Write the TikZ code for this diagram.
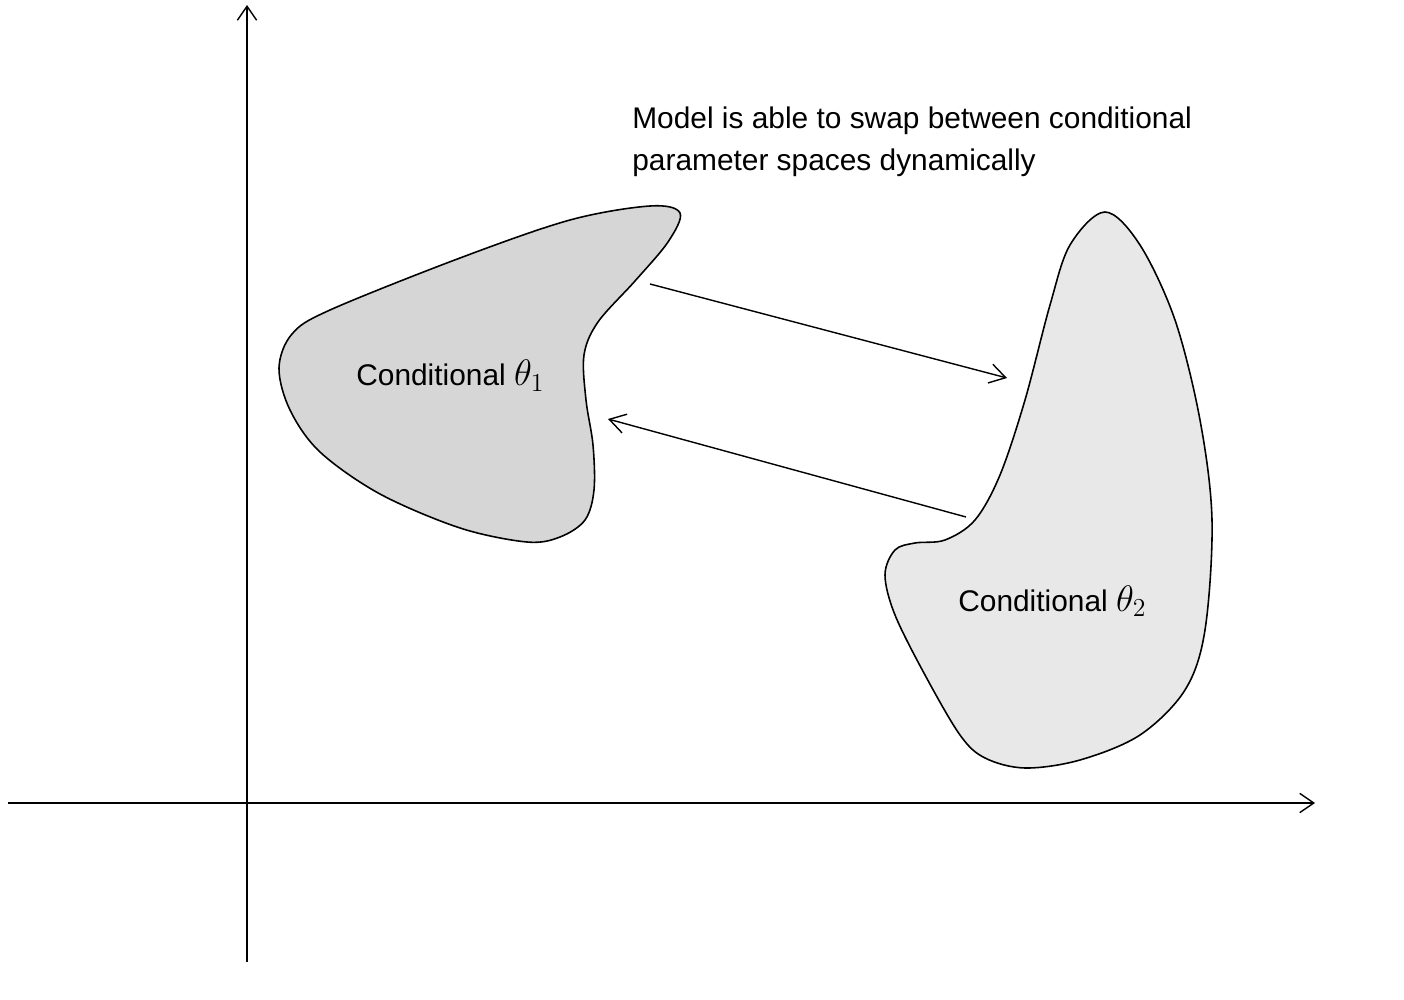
\documentclass[tikz,border=0pt]{standalone}
\usepackage{fix-cm}
\usepackage{fontspec}
\setmainfont{Liberation Sans}
\usetikzlibrary{arrows.meta}

\definecolor{regionone}{HTML}{D6D6D6}
\definecolor{regiontwo}{HTML}{E8E8E8}

\newcommand{\bigtheta}[1]{{\fontsize{21}{24}\selectfont$\theta_{#1}$}}

\tikzset{
  region/.style={draw=black, line width=0.9pt},
  txt/.style={inner sep=0pt, font=\fontsize{17}{23.8}\selectfont},
  swaparrow/.style={-{Straight Barb[length=9pt,width=11pt]}, line width=0.8pt},
  axis/.style={-{Straight Barb[length=8pt,width=11pt]}, line width=0.8pt}
}

\begin{document}
\begin{tikzpicture}[x=0.02cm, y=-0.02cm]
\useasboundingbox (0,0) rectangle (1404,1000);

% Draw coordinate axes
\coordinate (xbeg) at (8,803);
\coordinate (xend) at (1315,803);
\coordinate (ybeg) at (247,962);
\coordinate (yend) at (247,5);
\draw[axis] (xbeg) -- (xend);
\draw[axis] (ybeg) -- (yend);

% First conditional region
\draw[region, fill=regionone] plot[smooth cycle, tension=0.55] coordinates {
  (650,206) (680,213) (668,242) (635,281) (598,322) (584,355) (586,400)
  (593,445) (594,490) (585,520) (560,537) (527,542) (460,528) (380,494)
  (320,452) (290,410) (279,368) (292,334) (330,310) (460,258) (570,220)};
% Second conditional region
\draw[region, fill=regiontwo] plot[smooth cycle, tension=0.55] coordinates {
  (1105,212) (1140,245) (1175,320) (1200,420) (1212,520) (1205,630)
  (1185,690) (1140,735) (1080,760) (1025,768) (985,758) (960,735)
  (925,675) (895,615) (885,575) (895,550) (915,543) (945,540) (975,520)
  (1000,475) (1025,400) (1050,305) (1070,245)};

% Region labels
\node[txt, anchor=base west] (condone) at (356,386) {Conditional \bigtheta{1}};
\node[txt, anchor=base west] (condtwo) at (958,611) {Conditional \bigtheta{2}};

% Caption
\node[txt, anchor=north west, align=left] (caption) at (632,107)
  {Model is able to swap between conditional\\parameter spaces dynamically};

% Swap arrows between the regions
\coordinate (gofrom) at (650,284);
\coordinate (goto) at (1007,378);
\coordinate (backfrom) at (966,517);
\coordinate (backto) at (608,419);
\draw[swaparrow] (gofrom) -- (goto);
\draw[swaparrow] (backfrom) -- (backto);

\end{tikzpicture}
\end{document}
